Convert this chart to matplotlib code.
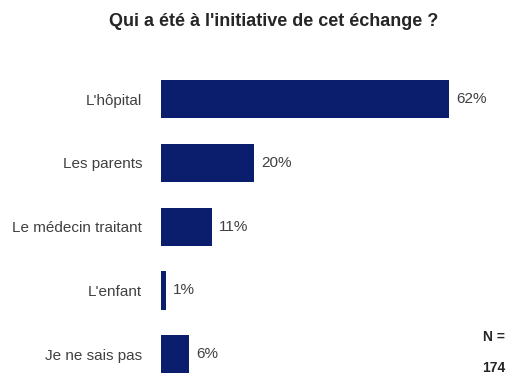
import matplotlib.pyplot as plt

plt.rcParams['font.family'] = ['Liberation Sans', 'DejaVu Sans']

categories = ["L'hôpital", "Les parents", "Le médecin traitant", "L'enfant", "Je ne sais pas"]
values = [62, 20, 11, 1, 6]
sample_size = 174

bar_color = '#0b1d6d'
text_color = '#404040'

fig = plt.figure(figsize=(5.09, 3.83), dpi=100)
ax = fig.add_axes([161 / 509, 0.0, 325 / 509, 319 / 383])

positions = list(range(len(categories)))
ax.barh(positions, values, height=0.6, color=bar_color)
ax.set_xlim(0, 70)
ax.set_ylim(4.45, -0.55)

for y, v in zip(positions, values):
    ax.text(v + 1.5, y, f"{v}%", va='center', ha='left', fontsize=11, color=text_color)

ax.set_yticks(positions)
ax.set_yticklabels(categories, fontsize=11, color=text_color)
ax.tick_params(axis='y', length=0, pad=13.5)
ax.set_xticks([])
for side in ax.spines.values():
    side.set_visible(False)

fig.text(0.538, 1 - 21 / 383, "Qui a été à l'initiative de cet échange ?",
         ha='center', va='center', fontsize=13, fontweight='bold', color='#262626')
fig.text(494 / 509, 1 - 337 / 383, "N =", ha='center', va='center',
         fontsize=10, fontweight='bold', color='#262626')
fig.text(494 / 509, 1 - 368 / 383, str(sample_size), ha='center', va='center',
         fontsize=10, fontweight='bold', color='#262626')

fig.savefig('out.png', dpi=100)
